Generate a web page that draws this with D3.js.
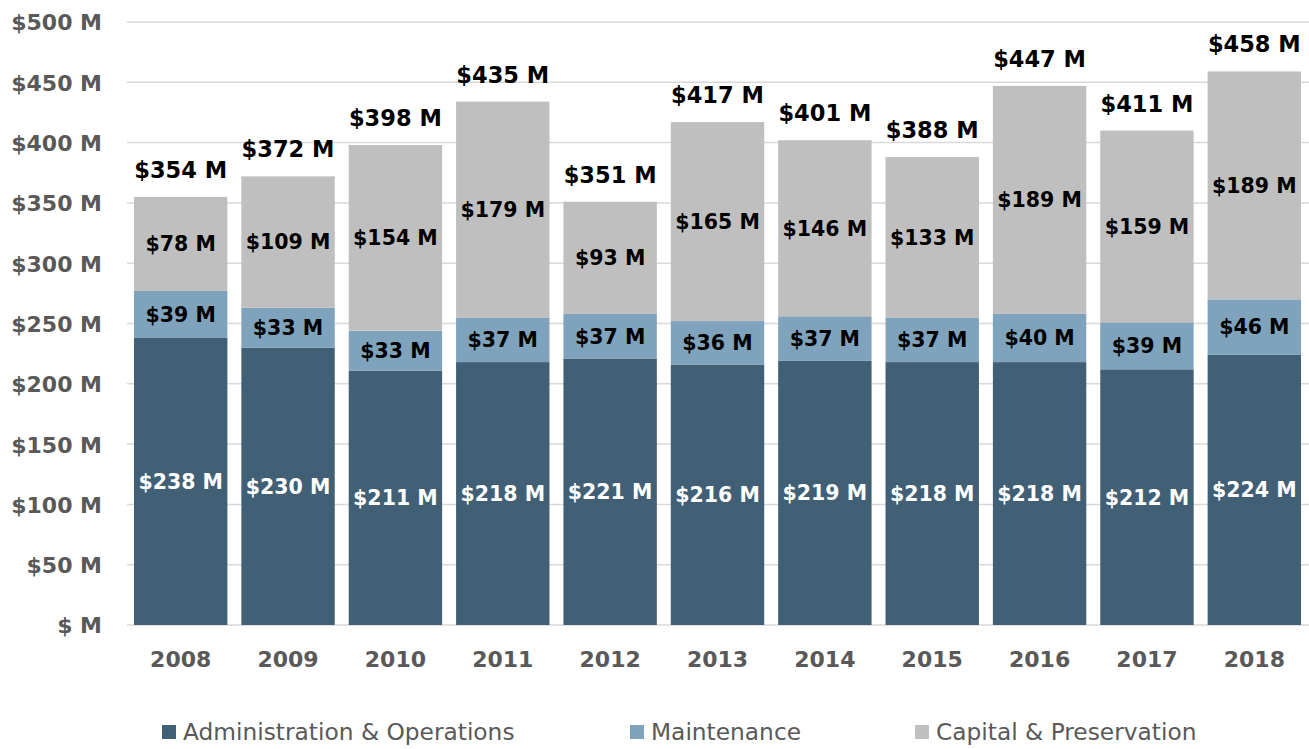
<!DOCTYPE html>
<html>
<head>
<meta charset="utf-8">
<script src="https://cdn.jsdelivr.net/npm/d3@7"></script>
<style>
  html, body { margin: 0; padding: 0; background: #fff; }
  svg { display: block; }
  text { font-family: "DejaVu Sans", "Noto Sans", sans-serif; }
</style>
</head>
<body>
<svg id="chart" width="1309" height="749"></svg>
<script>
// Annual spending by program, in millions of dollars
const years = ["2008", "2009", "2010", "2011", "2012", "2013", "2014", "2015", "2016", "2017", "2018"];
const adminOps = [238, 230, 211, 218, 221, 216, 219, 218, 218, 212, 224];
const maintenance = [39, 33, 33, 37, 37, 36, 37, 37, 40, 39, 46];
const capitalPres = [78, 109, 154, 179, 93, 165, 146, 133, 189, 159, 189];
const totals = [354, 372, 398, 435, 351, 417, 401, 388, 447, 411, 458];
const seriesNames = ["Administration & Operations", "Maintenance", "Capital & Preservation"];
const yTicks = [0, 50, 100, 150, 200, 250, 300, 350, 400, 450, 500];

const colors = ["#416076", "#7fa3bc", "#bfbfbf"];
const labelColors = ["#ffffff", "#000000", "#000000"];
const axisGray = "#595959";
const fontFamily = '"DejaVu Sans", "Noto Sans", sans-serif';
const fmt = v => v === 0 ? "$ M" : `$${v} M`;

const svg = d3.select("#chart");

const x = d3.scaleBand()
  .domain(years)
  .range([127, 1308])
  .paddingInner(0.13)
  .paddingOuter(0.065);

const y = d3.scaleLinear()
  .domain([0, 500])
  .range([625, 22]);

// Horizontal gridlines
svg.append("g")
  .selectAll("line")
  .data(yTicks)
  .join("line")
  .attr("x1", 127)
  .attr("x2", 1309)
  .attr("y1", d => y(d))
  .attr("y2", d => y(d))
  .attr("stroke", "#d9d9d9")
  .attr("stroke-width", 1.5);

// Y axis labels
const yAxis = d3.axisLeft(y).tickValues(yTicks).tickFormat(fmt).tickSize(0).tickPadding(0);
svg.append("g")
  .attr("transform", "translate(102,0)")
  .call(yAxis)
  .call(g => g.select(".domain").remove())
  .call(g => g.selectAll("text")
    .attr("fill", axisGray)
    .attr("dy", "0.36em")
    .style("font-size", "22px")
    .style("font-weight", "700")
    .style("font-family", fontFamily));

// Stacked data
const rows = years.map((yr, i) => ({ year: yr, s0: adminOps[i], s1: maintenance[i], s2: capitalPres[i], total: totals[i] }));
const stack = d3.stack().keys(["s0", "s1", "s2"]);
const layers = stack(rows);

const layerG = svg.append("g")
  .selectAll("g")
  .data(layers)
  .join("g")
  .attr("fill", (d, i) => colors[i]);

layerG.selectAll("rect")
  .data(d => d)
  .join("rect")
  .attr("x", d => x(d.data.year))
  .attr("width", x.bandwidth())
  .attr("y", d => y(d[1]))
  .attr("height", d => y(d[0]) - y(d[1]));

// Segment value labels
layers.forEach((layer, i) => {
  svg.append("g")
    .selectAll("text")
    .data(layer)
    .join("text")
    .attr("x", d => x(d.data.year) + x.bandwidth() / 2)
    .attr("y", d => (y(d[0]) + y(d[1])) / 2)
    .attr("dy", "0.36em")
    .attr("text-anchor", "middle")
    .attr("fill", labelColors[i])
    .style("font-size", "20.5px")
    .style("font-weight", "700")
    .text(d => fmt(d.data[layer.key]));
});

// Total labels above each bar
const topLayer = layers[layers.length - 1];
svg.append("g")
  .selectAll("text")
  .data(topLayer)
  .join("text")
  .attr("x", d => x(d.data.year) + x.bandwidth() / 2)
  .attr("y", d => y(d[1]) - 19)
  .attr("text-anchor", "middle")
  .attr("fill", "#000")
  .style("font-size", "22.5px")
  .style("font-weight", "700")
  .text(d => fmt(d.data.total));

// X axis labels
const xAxis = d3.axisBottom(x).tickSize(0).tickPadding(0);
svg.append("g")
  .attr("transform", "translate(0,667)")
  .call(xAxis)
  .call(g => g.select(".domain").remove())
  .call(g => g.selectAll("text")
    .attr("fill", axisGray)
    .attr("dy", "0")
    .style("font-size", "22px")
    .style("font-weight", "700")
    .style("font-family", fontFamily));

// Legend
const legendX = [162, 630, 915];
const legend = svg.append("g")
  .selectAll("g")
  .data(seriesNames)
  .join("g")
  .attr("transform", (d, i) => `translate(${legendX[i]},725)`);
legend.append("rect")
  .attr("width", 14)
  .attr("height", 14)
  .attr("fill", (d, i) => colors[i]);
legend.append("text")
  .attr("x", 21)
  .attr("y", 15)
  .attr("fill", axisGray)
  .style("font-size", "23.3px")
  .text(d => d);
</script>
</body>
</html>
